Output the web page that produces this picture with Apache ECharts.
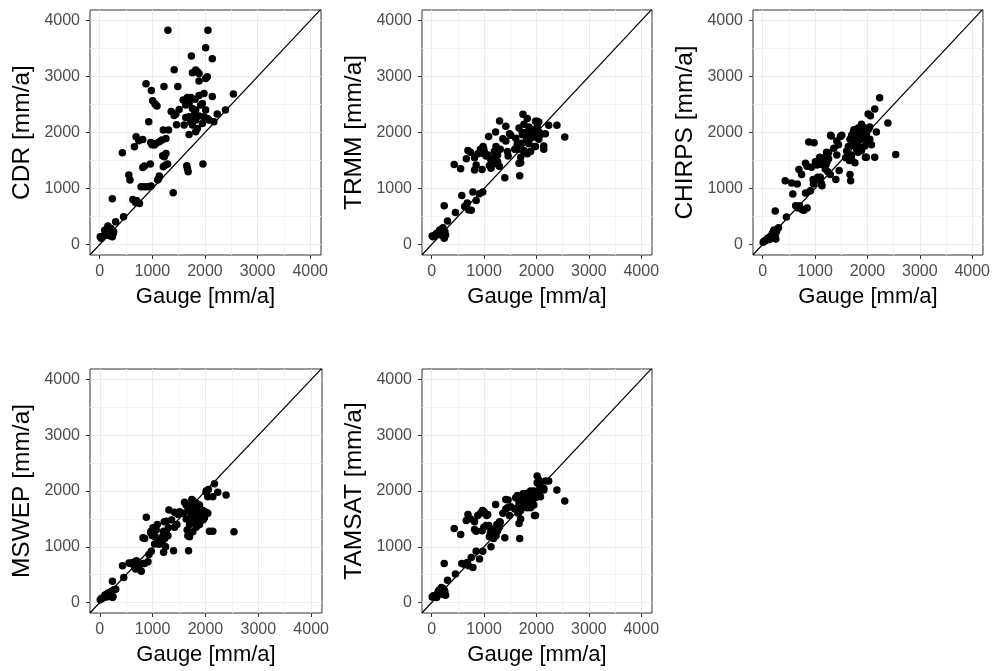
<!DOCTYPE html>
<html><head><meta charset="utf-8">
<script src="https://cdn.jsdelivr.net/npm/echarts@6/dist/echarts.min.js"></script>
<style>html,body{margin:0;padding:0;background:#fff}#c{width:993px;height:671px}</style>
</head><body><div id="c"></div>
<script>
// Gauge annual precipitation (mm/a) for each station
const gauge = [10,60,95,130,155,185,215,250,30,115,200,265,240,302,453,239,430,
  629,679,755,704,553,575,786,849,912,975,962,849,818,692,742,818,660,931,880,981,1006,1050,1088,1132,1101,1120,1245,1208,1290,1258,1227,1195,1208,1308,1258,1182,1132,1069,994,969,1038,1220,1296,1396,1415,1484,1358,1415,1447,1510,1459,
  1654,1680,1667,1962,1742,1698,1824,1824,1855,1761,1887,1887,2013,2044,2013,2057,2139,2540,2139,2390,2233,2170,
  1585,1667,1730,1811,1887,1981,1635,1698,1761,1824,1918,1793,1698,1635,1887,1981,2044,1950,2076,1604,1761,1855,1730,2013,1950,1824];
const cdr = [137,149,256,167,328,226,286,179,113,197,155,226,137,405,495,817,1639,
  805,751,733,781,1240,1150,1031,1031,1031,1043,1436,1401,1377,1925,1854,1877,1746,2193,2873,2753,2569,2509,2473,1222,1150,1180,1418,1389,1436,1627,1567,1585,2044,2044,1895,1865,1836,1806,1782,1824,1776,2825,3826,924,3123,2825,2378,2306,2330,2413,2139,
  1407,1299,1359,1437,3367,1967,2015,3117,3087,3070,3057,2920,2968,2998,3516,3826,3320,2688,2646,2402,2330,2193,
  2581,2628,2628,2593,2664,2700,2491,2521,2432,2402,2491,2312,2283,2271,2295,2283,2253,2163,2223,2134,2134,2074,2193,2402,2521,2223];
const trmm = [150,160,200,180,260,240,300,230,140,190,160,170,110,420,570,690,1430,
  680,740,610,620,1355,876,936,787,906,936,1340,1420,1330,1680,1650,1550,1530,1700,1620,1750,1650,1600,1930,1360,1410,1540,1450,1520,1400,1600,1750,1660,1560,1700,1480,1440,1520,1600,1700,1630,1580,2010,2206,1193,2111,1980,1889,1850,1660,1950,1580,
  1700,1229,1450,1750,2326,1460,1620,2250,2100,2150,1980,2020,2200,2190,2050,2000,1700,1920,1760,2129,2130,1980,
  1700,2080,1960,1880,1900,2200,1770,1810,1680,1950,2050,2000,1560,1800,1660,1750,1880,1920,1960,1900,1640,1800,2000,2100,2000,1850];
const chirps = [40,70,110,90,150,200,260,100,60,120,180,230,140,300,490,600,1140,
  690,650,620,690,1100,900,610,650,960,1100,1160,1400,1450,1340,1250,920,1080,1380,1830,1820,1480,1200,1560,1050,1200,1090,1300,1430,1250,1530,1480,1350,1480,1940,1640,1550,1430,1500,1150,1080,1420,1650,1950,1160,1850,1930,1720,1600,1780,1950,1320,
  1500,1140,1250,1560,2050,1600,1700,2080,1950,1900,2150,2000,2330,2100,2050,2300,2420,1610,1560,2170,2620,2010,
  1550,1880,1780,1820,1880,1950,1750,1950,1850,1760,2100,1700,1520,1600,1680,1560,1880,1900,1780,1670,1460,1980,2000,1820,1760,1650];
const mswep = [50,80,130,100,170,150,200,110,70,140,120,230,90,240,450,380,660,
  720,600,680,650,710,700,560,700,730,920,1250,1150,1160,750,660,700,640,860,1530,1270,1340,1180,1400,1130,1080,1050,1000,900,1200,1460,1150,1200,1280,1660,1250,1100,1050,1300,1200,1280,1050,1450,1340,930,1620,1580,1480,1350,1600,1630,1400,
  1300,930,1200,1500,1850,1180,1350,1780,1700,1830,1750,1690,2000,1900,1980,2030,1900,1270,1280,1930,1980,2130,
  1600,1700,1750,1600,1550,1630,1500,1640,1450,1520,1550,1700,1400,1750,1400,1520,1600,1650,1280,1800,1270,1450,1560,1620,1480,1610];
const tamsat = [100,110,90,210,230,270,250,200,120,170,150,130,220,400,510,700,1330,
  680,720,810,660,1220,700,630,920,780,920,1290,1280,1310,1580,1500,1450,1470,1600,1560,1640,1620,1560,1380,1000,1180,1250,1400,1330,1350,1290,1200,1250,1200,1440,1300,1150,1300,1580,1350,1650,1380,1760,1450,1160,1850,1560,1600,1680,1700,1720,1840,
  1600,1150,1420,1560,1950,1500,1800,1960,1900,1870,1950,2000,2270,2200,2150,2100,2050,1820,2020,2020,2180,2180,
  1680,1800,1900,1750,1700,1880,1920,1780,1840,1700,1840,1880,1650,1700,1940,1560,2000,1750,1900,1880,1750,1920,1700,1960,2000,1800];

const productNames = ['CDR','TRMM','CHIRPS','MSWEP','TAMSAT'];
const majorTicks = [0,1000,2000,3000,4000];
const minorTicks = [500,1500,2500,3500];
const xLimits = [-185, 4205];
const yLimits = [-188, 4190];
const xTitle = 'Gauge [mm/a]';
const unitSuffix = ' [mm/a]';

const products = [cdr, trmm, chirps, mswep, tamsat];
const boxes = [
  {left:90, top:10, width:231, height:245},
  {left:422, top:10, width:230, height:245},
  {left:753, top:10, width:230, height:245},
  {left:90, top:369, width:232, height:244},
  {left:422, top:369, width:230, height:244}
];
const FONT = 'Liberation Sans, Arial, Helvetica, sans-serif';

const grids = [], xAxes = [], yAxes = [], series = [];
products.forEach((vals, i) => {
  grids.push(Object.assign({show:true, borderColor:'#333333', borderWidth:1, backgroundColor:'#fff', containLabel:false}, boxes[i]));
  const labelBase = {customValues:majorTicks, color:'#4D4D4D', fontSize:16, fontFamily:FONT, formatter:(v)=>String(v)};
  const axisCommon = {
    gridIndex:i, type:'value', nameLocation:'middle',
    axisLine:{show:false, onZero:false},
    axisTick:{show:true, customValues:majorTicks, length:4, lineStyle:{color:'#333333', width:1}},
    splitLine:{show:false}, minorSplitLine:{show:false}
  };
  xAxes.push(Object.assign({}, axisCommon, {
    min:xLimits[0], max:xLimits[1], name:xTitle, nameGap:31,
    nameTextStyle:{color:'#000', fontSize:22, fontFamily:FONT},
    axisLabel:Object.assign({}, labelBase, {margin:9})
  }));
  yAxes.push(Object.assign({}, axisCommon, {
    min:yLimits[0], max:yLimits[1], name:productNames[i] + unitSuffix, nameGap:55,
    nameTextStyle:{color:'#000', fontSize:24.5, fontFamily:FONT},
    axisLabel:Object.assign({}, labelBase, {margin:10})
  }));
  // grid lines (minor then major), kept beneath the marks
  series.push({
    type:'line', xAxisIndex:i, yAxisIndex:i, data:[], silent:true, z:1,
    markLine:{z:1, silent:true, symbol:'none', animation:false, label:{show:false},
      lineStyle:{color:'#F4F4F4', width:1, type:'solid'},
      emphasis:{disabled:true},
      data:[...minorTicks.map(v=>({xAxis:v})), ...minorTicks.map(v=>({yAxis:v}))]}
  });
  series.push({
    type:'line', xAxisIndex:i, yAxisIndex:i, data:[], silent:true, z:1,
    markLine:{z:1, silent:true, symbol:'none', animation:false, label:{show:false},
      lineStyle:{color:'#EBEBEB', width:1, type:'solid'},
      emphasis:{disabled:true},
      data:[...majorTicks.map(v=>({xAxis:v})), ...majorTicks.map(v=>({yAxis:v}))]}
  });
  // 1:1 line across the panel
  const lo = Math.min(xLimits[0], yLimits[0]), hi = Math.max(xLimits[1], yLimits[1]);
  series.push({
    type:'line', xAxisIndex:i, yAxisIndex:i, data:[[lo,lo],[hi,hi]], clip:true,
    showSymbol:false, symbol:'none', silent:true, z:3,
    lineStyle:{color:'#000', width:1.2}
  });
  series.push({
    type:'scatter', xAxisIndex:i, yAxisIndex:i, z:4,
    data: gauge.map((g, k) => [g, vals[k]]),
    symbolSize:7.5, itemStyle:{color:'#000', opacity:1}
  });
});

const chart = echarts.init(document.getElementById('c'), null, {renderer:'canvas'});
chart.setOption({
  animation:false, backgroundColor:'#fff',
  grid:grids, xAxis:xAxes, yAxis:yAxes, series:series
});
</script></body></html>
